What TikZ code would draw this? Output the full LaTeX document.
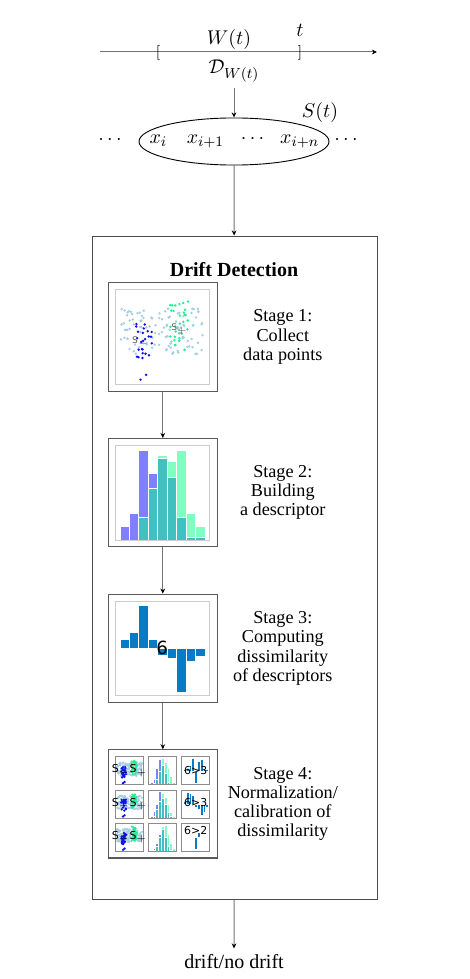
\documentclass[tikz,border=0pt]{standalone}
\usepackage{fontspec}
\setmainfont{Liberation Serif}
\setsansfont{DejaVu Sans}
\usetikzlibrary{shapes, positioning, arrows.meta, calc}

\definecolor{ptlight}{HTML}{A6CEE3}
\definecolor{ptblue}{HTML}{1010F0}
\definecolor{ptgreen}{HTML}{20F090}
\definecolor{histblue}{HTML}{8080FF}
\definecolor{histgreen}{HTML}{80FFC0}
\definecolor{histboth}{HTML}{40C0C0}
\definecolor{diffblue}{HTML}{0A7BC2}

% scatter of the two windows: seed, dot radius
\newcommand{\scatterplot}[2]{%
    \pgfmathsetseed{#1}
    \foreach \k in {1,...,110}
        \fill[ptlight] ({0.5+0.46*rand},{0.56+0.24*rand}) circle (#2);
    \foreach \k in {1,...,24}
        \fill[ptblue] ({0.3+0.09*rand},{0.46+0.2*rand}) circle (#2);
    \fill[ptblue] (0.33,0.1) circle (#2) (0.27,0.05) circle (#2);
    \foreach \k in {1,...,30}
        \fill[ptgreen] ({0.68+0.1*rand},{0.62+0.26*rand}) circle (#2);
}

% overlapping histograms: blue/green heights
\newcommand{\histplot}[1]{%
    \foreach \a/\b [count=\i] in {#1} {
        \pgfmathsetmacro{\hmin}{min(\a,\b)}
        \filldraw[histblue, bar] ({0.1*\i-0.05},0) rectangle ++(0.1,\a);
        \filldraw[histgreen, bar] ({0.1*\i-0.05},0) rectangle ++(0.1,\b);
        \filldraw[histboth, bar] ({0.1*\i-0.05},0) rectangle ++(0.1,\hmin);
    }
}

% signed difference of the histograms
\newcommand{\diffplot}[1]{%
    \foreach \h [count=\i] in {#1}
        \filldraw[diffblue, bar] ({0.1*\i-0.05},0.5) rectangle ++(0.1,\h);
}

% one row of stage 4: row, seed, hist, diff, text height, text
\newcommand{\minirow}[6]{%
    \begin{scope}[shift={($(s4.south west)+(4.2pt,{4pt+18.3pt*#1})$)}, x=15.4pt, y=15.4pt]
        \scatterplot{#2}{0.7pt}
        \draw[miniframe] (0,0) rectangle (1,1);
        \node[minilabel] (pair#1) at (0.5,0.5) {S$_-$S$_+$};
    \end{scope}
    \begin{scope}[shift={($(s4.south west)+(22.5pt,{4pt+18.3pt*#1})$)}, x=15.4pt, y=15.4pt]
        \histplot{#3}
        \draw[miniframe] (0,0) rectangle (1,1);
    \end{scope}
    \begin{scope}[shift={($(s4.south west)+(40.7pt,{4pt+18.3pt*#1})$)}, x=15.4pt, y=15.4pt]
        \diffplot{#4}
        \draw[miniframe] (0,0) rectangle (1,1);
        \node[minilabel] (cmp#1) at (0.5,#5) {#6};
    \end{scope}
}

\begin{document}
\begin{tikzpicture}[
    x=0.55pt, y=-0.55pt,
    font=\fontsize{11}{13}\selectfont,
    stagebox/.style={draw=black!65, line width=0.6pt, minimum width=60pt, minimum height=59.5pt, inner sep=0pt},
    stagetext/.style={align=center, font=\fontsize{10}{10.6}\selectfont},
    innerframe/.style={draw=black!20, line width=0.5pt},
    miniframe/.style={draw=black!45, line width=0.5pt},
    bar/.style={draw=white, line width=0.15pt},
    ptlabel/.style={font=\sffamily\fontsize{5}{5}\selectfont, text=black!65, inner sep=0pt},
    minilabel/.style={font=\sffamily\fontsize{6}{6}\selectfont, inner sep=0pt},
    item/.style={minimum width=25.9pt},
    line/.style={draw=black!55, line width=0.55pt, -{Stealth[length=2.8pt, width=2.6pt, black]}},
    node distance=25.5pt
]
    \useasboundingbox (0,0) rectangle (469,979);

    %% TIME AXIS AND WINDOW
    \coordinate (tstart) at (100,52);
    \coordinate (tend) at (377,52);
    \draw [line] (tstart) -- (tend);
    \node [font=\fontsize{8.5}{8.5}\selectfont] (lbr) at (158,53) {$[$};
    \node [font=\fontsize{8.5}{8.5}\selectfont] (rbr) at (300,53) {$]$};
    \node (wt) at (229,40) {$W(t)$};
    \node (now) at (300,30) {$t$};
    \node (dw) at (234,71) {$\mathcal{D}_{W(t)}$};

    %% SAMPLE
    \node [ellipse, draw, line width=0.5pt, minimum width=104.5pt, minimum height=25.9pt, inner sep=0pt] (seq) at (234,141.5)
        {\makebox[0pt]{\makebox[25.9pt]{$x_i$}\makebox[25.9pt]{$x_{i+1}$}\makebox[25.9pt]{$\cdots$}\makebox[25.9pt]{$x_{i+n}$}\hspace{5.5pt}}};
    \node (ldots) at (110,140) {$\cdots$};
    \node (rdots) at (346,140) {$\cdots$};
    \node (st) at (320,113) {$S(t)$};

    \draw [line] (dw) -- (seq);

    %% DRIFT DETECTION
    \node [draw=black!70, line width=0.55pt, minimum width=156.75pt, minimum height=364.65pt, inner sep=0pt] (detect) at (234.5,567.5) {};
    \node [font=\fontsize{11}{13}\selectfont\bfseries] (title) at (234,270) {Drift Detection};

    \node [stagebox] (s1) at (162.8,337) {};
    \node [stagebox, below=of s1] (s2) {};
    \node [stagebox, below=of s2] (s3) {};
    \node [stagebox, below=of s3] (s4) {};

    \node [stagetext] (d1) at ($(s1)+(66pt,0)$) {Stage 1:\\Collect\\data points};
    \node [stagetext] (d2) at ($(s2)+(66pt,0)$) {Stage 2:\\Building\\a descriptor};
    \node [stagetext] (d3) at ($(s3)+(66pt,0)$) {Stage 3:\\Computing\\dissimilarity\\of descriptors};
    \node [stagetext] (d4) at ($(s4)+(66pt,0)$) {Stage 4:\\Normalization/\\calibration of\\dissimilarity};

    % Stage 1: data points
    \begin{scope}[shift={($(s1.south west)+(4pt,4pt)$)}, x=52pt, y=52pt]
        \scatterplot{7}{0.75pt}
        \draw [innerframe] (0,0) rectangle (1,1);
        \node [ptlabel] (sminus) at (0.27,0.44) {S$_-$};
        \node [ptlabel] (splus) at (0.68,0.58) {S$_+$};
    \end{scope}

    % Stage 2: histograms
    \begin{scope}[shift={($(s2.south west)+(4pt,4pt)$)}, x=52pt, y=52pt]
        \histplot{.15/0,.28/0,.95/.24,.71/.55,.87/.90,.67/.83,.24/.95,.03/.28,.03/.15}
        \draw [innerframe] (0,0) rectangle (1,1);
    \end{scope}

    % Stage 3: difference
    \begin{scope}[shift={($(s3.south west)+(4pt,4pt)$)}, x=52pt, y=52pt]
        \diffplot{.1,.175,.46,.1,-.07,-.1,-.46,-.14,-.08}
        \draw [innerframe] (0,0) rectangle (1,1);
        \node [font=\sffamily\fontsize{10}{10}\selectfont, inner sep=0pt] (delta) at (0.5,0.5) {6};
    \end{scope}

    % Stage 4: many windows
    \minirow{2}{3}{.1/0,.2/.05,.6/.2,.9/.5,.7/.95,.4/.8,.1/.6,0/.3,0/.1}{.05,.1,.2,.45,-.45,.35,.4,.1,.05}{0.52}{6>3}
    \minirow{1}{5}{.05/0,.25/.05,.5/.3,.95/.6,.7/.9,.5/.75,.2/.5,.05/.2,0/.05}{.1,.42,.38,.3,-.1,-.2,-.38,-.3,-.1}{0.56}{6>3}
    \minirow{0}{9}{0/0,.1/.05,.3/.2,.6/.5,.8/.9,.5/.95,.2/.6,.05/.3,0/.1}{0,0,0,.05,-.42,.2,.05,0,0}{0.75}{6>2}

    % Paths
    \draw [line] (seq) -- (detect);
    \draw [line] (s1) -- (s2);
    \draw [line] (s2) -- (s3);
    \draw [line] (s3) -- (s4);

    %% RESULT
    \node (out) at (234,962) {drift/no drift};
    \draw [line] (detect) -- (out);

\end{tikzpicture}
\end{document}
